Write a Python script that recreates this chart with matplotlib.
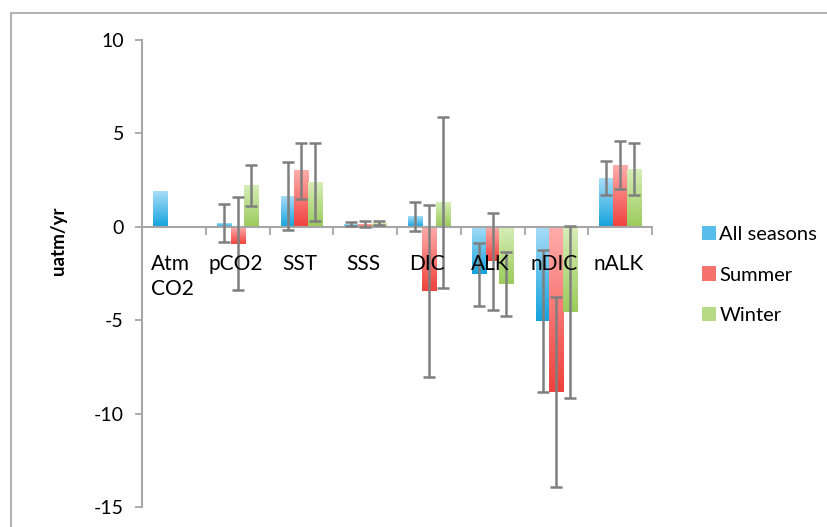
import numpy as np
import matplotlib
matplotlib.use("Agg")
import matplotlib.pyplot as plt
from matplotlib.colors import LinearSegmentedColormap
from matplotlib.patches import Rectangle, Patch

plt.rcParams['font.family'] = ['Lato', 'DejaVu Sans']
plt.rcParams['axes.unicode_minus'] = False

# données
categories = ["Atm\nCO2", "pCO2", "SST", "SSS", "DIC", "ALK", "nDIC", "nALK"]
series = ["All seasons", "Summer", "Winter"]
all_seasons = [1.9, 0.2, 1.65, 0.15, 0.55, -2.55, -5.05, 2.6]
all_err = [np.nan, 1.0, 1.8, 0.12, 0.8, 1.7, 3.8, 0.9]
summer = [np.nan, -0.9, 3.0, 0.15, -3.45, -1.85, -8.85, 3.3]
summer_err = [np.nan, 2.5, 1.5, 0.15, 4.6, 2.6, 5.1, 1.3]
winter = [np.nan, 2.2, 2.4, 0.2, 1.3, -3.05, -4.55, 3.1]
winter_err = [np.nan, 1.1, 2.1, 0.12, 4.6, 1.7, 4.6, 1.4]

# couleurs : haut clair -> bas foncé
gradients = [("#a8ddf8", "#14a3de"), ("#ffadab", "#ef423e"), ("#d6edb8", "#9bcb5b")]

fig = plt.figure(figsize=(8.27, 5.27), dpi=100)
ax = fig.add_axes([142/827, 1-507/527, 510/827, 467/527])

x = np.arange(1, len(categories) + 1)
w = 0.22
offsets = [-0.215, 0.0, 0.215]
values = [all_seasons, summer, winter]
errors = [all_err, summer_err, winter_err]

grad = np.linspace(0, 1, 100).reshape(-1, 1)
cmaps = []
for vals, errs, off, (c_top, c_bot) in zip(values, errors, offsets, gradients):
    cmap = LinearSegmentedColormap.from_list("g", [c_top, c_bot])
    cmaps.append(cmap)
    bars = ax.bar(x + off, np.nan_to_num(vals), w, color="none", zorder=2)
    for b, v in zip(bars, vals):
        if np.isnan(v):
            continue
        x0, y0 = b.get_x(), min(0, v)
        ax.imshow(grad, cmap=cmap, aspect="auto", zorder=2, origin="upper",
                  extent=(x0, x0 + b.get_width(), y0, y0 + abs(v)))
    ax.errorbar(x + off, vals, yerr=errs, fmt="none", ecolor="#7f7f7f",
                elinewidth=1.8, capsize=4.5, capthick=1.8, zorder=3)

ax.set_xlim(0.5, len(categories) + 0.5)
ax.set_ylim(-15, 10)
ax.set_yticks([-15, -10, -5, 0, 5, 10])
ax.tick_params(axis="y", direction="out", length=5, color="#a6a6a6", width=1.3,
               labelsize=14, pad=8)

ax.spines["top"].set_visible(False)
ax.spines["right"].set_visible(False)
ax.spines["bottom"].set_position(("data", 0))
for s in ["left", "bottom"]:
    ax.spines[s].set_color("#a6a6a6")
    ax.spines[s].set_linewidth(1.5)

ax.set_xticks(np.arange(0.5, len(categories) + 1, 1.0))
ax.set_xticklabels([])
ax.tick_params(axis="x", direction="out", length=6, color="#a6a6a6", width=1.3)

for xi, lab in zip(x, categories):
    ax.text(xi - 0.03, -1.45, lab, ha="center", va="top", fontsize=15,
            multialignment="left", linespacing=1.35)

fig.text(58/827, 1-241/527, "uatm/yr", rotation=90, ha="center", va="center",
         fontsize=13.5, fontweight="bold")

handles = [Patch(facecolor=cm(0.55), edgecolor="none") for cm in cmaps]
fig.legend(handles, series, loc="center left", bbox_to_anchor=(684/827, 1-275/527),
           frameon=False, fontsize=14.5, handlelength=0.7, handleheight=0.7,
           handletextpad=0.15, labelspacing=1.15)

fig.patches.append(Rectangle((11/827, -0.1), 1.2, 1 - 13/527 + 0.1, transform=fig.transFigure,
                             fill=False, edgecolor="#b3b3b3", linewidth=1.5))

fig.savefig("out.png", dpi=100)
